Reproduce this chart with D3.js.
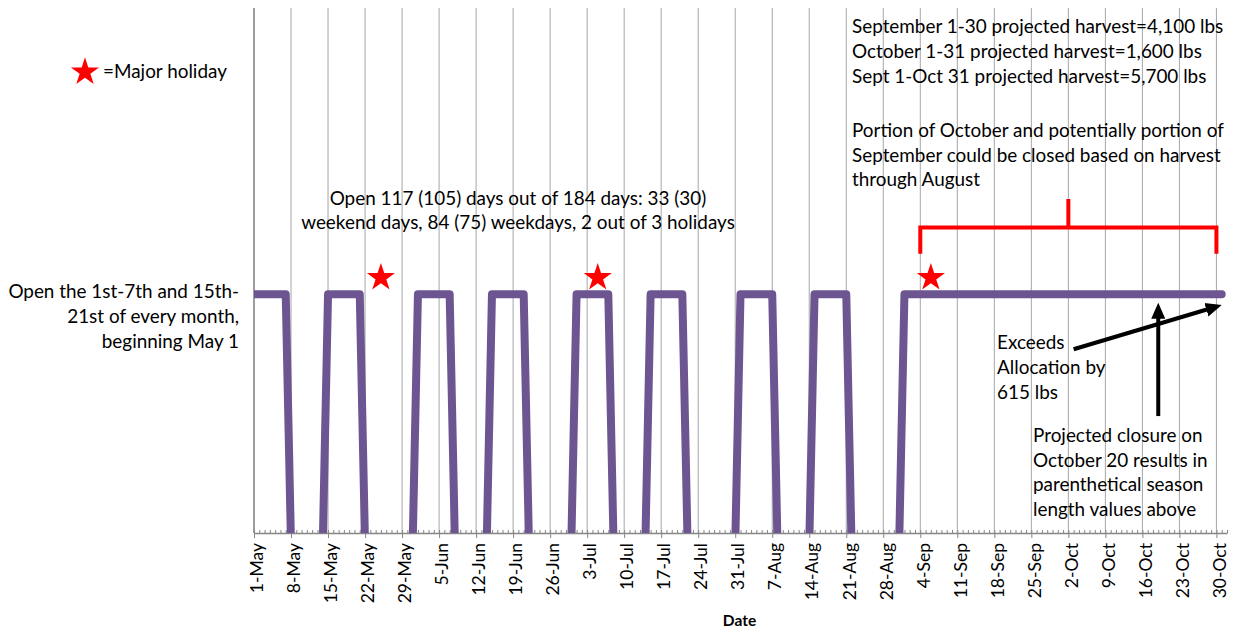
<!DOCTYPE html>
<html>
<head>
<meta charset="utf-8">
<script src="https://cdn.jsdelivr.net/npm/d3@7"></script>
<style>
    body { margin: 0; background: #fff; }
    svg text { font-family: Lato, "Open Sans", sans-serif; fill: #000; }
</style>
</head>
<body>
<script>

var parseDay = d3.timeParse("%Y-%m-%d");

// season shown on the axis
var seasonStart = "2015-05-01";
var axisEnd = "2015-11-01";

// open periods, first and last open day
var openFrom = ["2015-05-01", "2015-05-15", "2015-06-01", "2015-06-15", "2015-07-01",
                "2015-07-15", "2015-08-01", "2015-08-15", "2015-09-01"];
var openTo   = ["2015-05-07", "2015-05-21", "2015-06-07", "2015-06-21", "2015-07-07",
                "2015-07-21", "2015-08-07", "2015-08-21", "2015-10-31"];
var lastDay = "2015-10-31";
var openValue = 1;
var closedValue = -0.05;   // sits just under the axis, so only the drops show

// weekly tick labels
var tickLabels = ["1-May", "8-May", "15-May", "22-May", "29-May", "5-Jun", "12-Jun", "19-Jun",
                  "26-Jun", "3-Jul", "10-Jul", "17-Jul", "24-Jul", "31-Jul", "7-Aug", "14-Aug",
                  "21-Aug", "28-Aug", "4-Sep", "11-Sep", "18-Sep", "25-Sep", "2-Oct", "9-Oct",
                  "16-Oct", "23-Oct", "30-Oct"];

// holiday stars
var holidayDates = ["2015-05-25", "2015-07-05", "2015-09-06"];
var holidayLevel = 1.07;

// red bracket over the Sep/Oct part
var bracketDates = ["2015-09-04", "2015-10-02", "2015-10-30"];   // left, middle, right
var bracketLevels = [1.17, 1.28, 1.40];                          // foot, bar, top of middle tick

// arrows: from date, from value, to date, to value
var arrowFrom = [["2015-10-03", 0.77], ["2015-10-19", 0.49]];
var arrowTo   = [["2015-10-31", 0.955], ["2015-10-19", 0.965]];

// texts
var legendText = "=Major holiday";
var ruleLines = ["Open the 1st-7th and 15th-", "21st of every month,", "beginning May 1"];
var summaryLines = ["Open 117 (105) days out of 184 days: 33 (30)",
                    "weekend days, 84 (75) weekdays, 2 out of 3 holidays"];
var harvestLines = ["September 1-30 projected harvest=4,100 lbs",
                    "October 1-31 projected harvest=1,600 lbs",
                    "Sept 1-Oct 31 projected harvest=5,700 lbs"];
var portionLines = ["Portion of October and potentially portion of",
                    "September could be closed based on harvest",
                    "through August"];
var exceedLines = ["Exceeds", "Allocation by", "615 lbs"];
var closureLines = ["Projected closure on", "October 20 results in",
                    "parenthetical season", "length values above"];
var xTitle = "Date";

var yMax = 2.2;

// ---------------------------------------------------------------

var w = 1238;
var h = 628;

// plot edges (not called top/left: window.top is read only)
var padL = 254, padR = 1227, padT = 8, padB = 533;

var purple = "#6d5592";
var gridGray = "#a6a6a6";
var axisGray = "#868686";
var txtSize = "18.9px";

var svg = d3.select("body").append("svg")
    .attr("width", w)
    .attr("height", h);

var x = d3.scaleTime()
    .domain([parseDay(seasonStart), parseDay(axisEnd)])
    .range([padL, padR]);

var y = d3.scaleLinear()
    .domain([0, yMax])
    .range([padB, padT]);

// daily series built from the open periods
var days = d3.timeDay.range(parseDay(seasonStart), d3.timeDay.offset(parseDay(lastDay), 1));
var series = days.map(function(d) {
    var v = closedValue;
    for (var i = 0; i < openFrom.length; i++) {
        if (d >= parseDay(openFrom[i]) && d <= parseDay(openTo[i])) v = openValue;
    }
    return {date: d, value: v};
});

var tickDates = tickLabels.map(function(t) {
    return d3.timeParse("%d-%b-%Y")(t + "-2015");
});

// gridlines
svg.append("g")
    .selectAll("line")
    .data(tickDates)
    .enter()
    .append("line")
    .attr("x1", function(d) { return x(d); })
    .attr("x2", function(d) { return x(d); })
    .attr("y1", y(yMax))
    .attr("y2", y(0))
    .attr("stroke", function(d, i) { return i == 0 ? axisGray : gridGray; })
    .attr("stroke-width", function(d, i) { return i == 0 ? 1.6 : 1; });

// minor day ticks (pointing up)
var minorAxis = d3.axisBottom(x)
    .tickValues(d3.timeDay.range(parseDay(seasonStart), d3.timeDay.offset(parseDay(axisEnd), 1)))
    .tickSize(-3)
    .tickFormat("");

svg.append("g")
    .attr("transform", "translate(0," + y(0) + ")")
    .call(minorAxis)
    .call(function(g) {
        g.select(".domain").remove();
        g.selectAll("line").attr("stroke", axisGray);
    });

// main axis
var xAxis = d3.axisBottom(x)
    .tickValues(tickDates)
    .tickSize(5)
    .tickSizeOuter(0)
    .tickFormat(function(d, i) { return tickLabels[i]; });

svg.append("g")
    .attr("transform", "translate(0," + y(0) + ")")
    .call(xAxis)
    .call(function(g) {
        g.select(".domain").attr("stroke", axisGray).attr("stroke-width", 1.3);
        g.selectAll(".tick line").attr("stroke", axisGray);
        g.selectAll(".tick text")
            .attr("transform", "rotate(-90)")
            .attr("x", -10)
            .attr("y", 0)
            .attr("dy", "0.5em")
            .style("text-anchor", "end")
            .style("font-family", "Lato, sans-serif")
            .style("font-size", "17.5px")
            .attr("fill", "#000");
    });

svg.append("text")
    .attr("x", (padL + padR) / 2 - 1)
    .attr("y", 626)
    .attr("text-anchor", "middle")
    .style("font-size", "15.5px")
    .style("font-weight", "bold")
    .text(xTitle);

// open/closed line, clipped to the plot area
svg.append("clipPath")
    .attr("id", "plot")
    .append("rect")
    .attr("x", padL)
    .attr("y", 0)
    .attr("width", w - padL)
    .attr("height", padB);

var line = d3.line()
    .x(function(d) { return x(d.date); })
    .y(function(d) { return y(d.value); });

svg.append("path")
    .datum(series)
    .attr("clip-path", "url(#plot)")
    .attr("d", line)
    .attr("fill", "none")
    .attr("stroke", purple)
    .attr("stroke-width", 8)
    .attr("stroke-linejoin", "round")
    .attr("stroke-linecap", "round");

// stars
var star = d3.symbol().type(d3.symbolStar).size(245);

svg.append("g")
    .selectAll("path")
    .data(holidayDates)
    .enter()
    .append("path")
    .attr("d", star)
    .attr("transform", function(d) {
        return "translate(" + x(parseDay(d)) + "," + y(holidayLevel) + ")";
    })
    .attr("fill", "#ff0000");

// legend
svg.append("path")
    .attr("d", star)
    .attr("transform", "translate(85,72)")
    .attr("fill", "#ff0000");

svg.append("text")
    .attr("x", 103)
    .attr("y", 78)
    .style("font-size", txtSize)
    .text(legendText);

// bracket
var bx = bracketDates.map(function(d) { return x(parseDay(d)); });
var bracket = d3.path();
bracket.moveTo(bx[0], y(bracketLevels[0]));
bracket.lineTo(bx[0], y(bracketLevels[1]));
bracket.lineTo(bx[2], y(bracketLevels[1]));
bracket.lineTo(bx[2], y(bracketLevels[0]));
bracket.moveTo(bx[1], y(bracketLevels[1]));
bracket.lineTo(bx[1], y(bracketLevels[2]));

svg.append("path")
    .attr("d", bracket.toString())
    .attr("fill", "none")
    .attr("stroke", "#ff0000")
    .attr("stroke-width", 4);

// arrows
svg.append("defs")
    .append("marker")
    .attr("id", "head")
    .attr("markerUnits", "userSpaceOnUse")
    .attr("viewBox", "0 -8 17 16")
    .attr("refX", 4)
    .attr("refY", 0)
    .attr("markerWidth", 17)
    .attr("markerHeight", 16)
    .attr("orient", "auto")
    .append("path")
    .attr("d", "M0,-7L16,0L0,7Z")
    .attr("fill", "#000");

arrowFrom.forEach(function(a, i) {
    var x1 = x(parseDay(a[0])), y1 = y(a[1]);
    var x2 = x(parseDay(arrowTo[i][0])), y2 = y(arrowTo[i][1]);
    var len = Math.sqrt((x2 - x1) * (x2 - x1) + (y2 - y1) * (y2 - y1));
    var k = (len - 12) / len; // leave room for the head
    svg.append("line")
        .attr("x1", x1)
        .attr("y1", y1)
        .attr("x2", x1 + (x2 - x1) * k)
        .attr("y2", y1 + (y2 - y1) * k)
        .attr("stroke", "#000")
        .attr("stroke-width", 4)
        .attr("marker-end", "url(#head)");
});

// text blocks
function block(lines, xPos, baselines, anchor) {
    var t = svg.append("text")
        .attr("text-anchor", anchor)
        .style("font-size", txtSize);
    t.selectAll("tspan")
        .data(lines)
        .enter()
        .append("tspan")
        .attr("x", xPos)
        .attr("y", function(d, i) { return baselines[i]; })
        .text(function(d) { return d; });
}

block(ruleLines, 239, [298, 323, 348], "end");
block(summaryLines, 518, [205, 229], "middle");
block(harvestLines, 852, [33, 58, 83], "start");
block(portionLines, 852, [137, 162, 186], "start");
block(exceedLines, 997, [349, 374, 399], "start");
block(closureLines, 1033, [442, 466.5, 491, 515.5], "start");

</script>
</body>
</html>
